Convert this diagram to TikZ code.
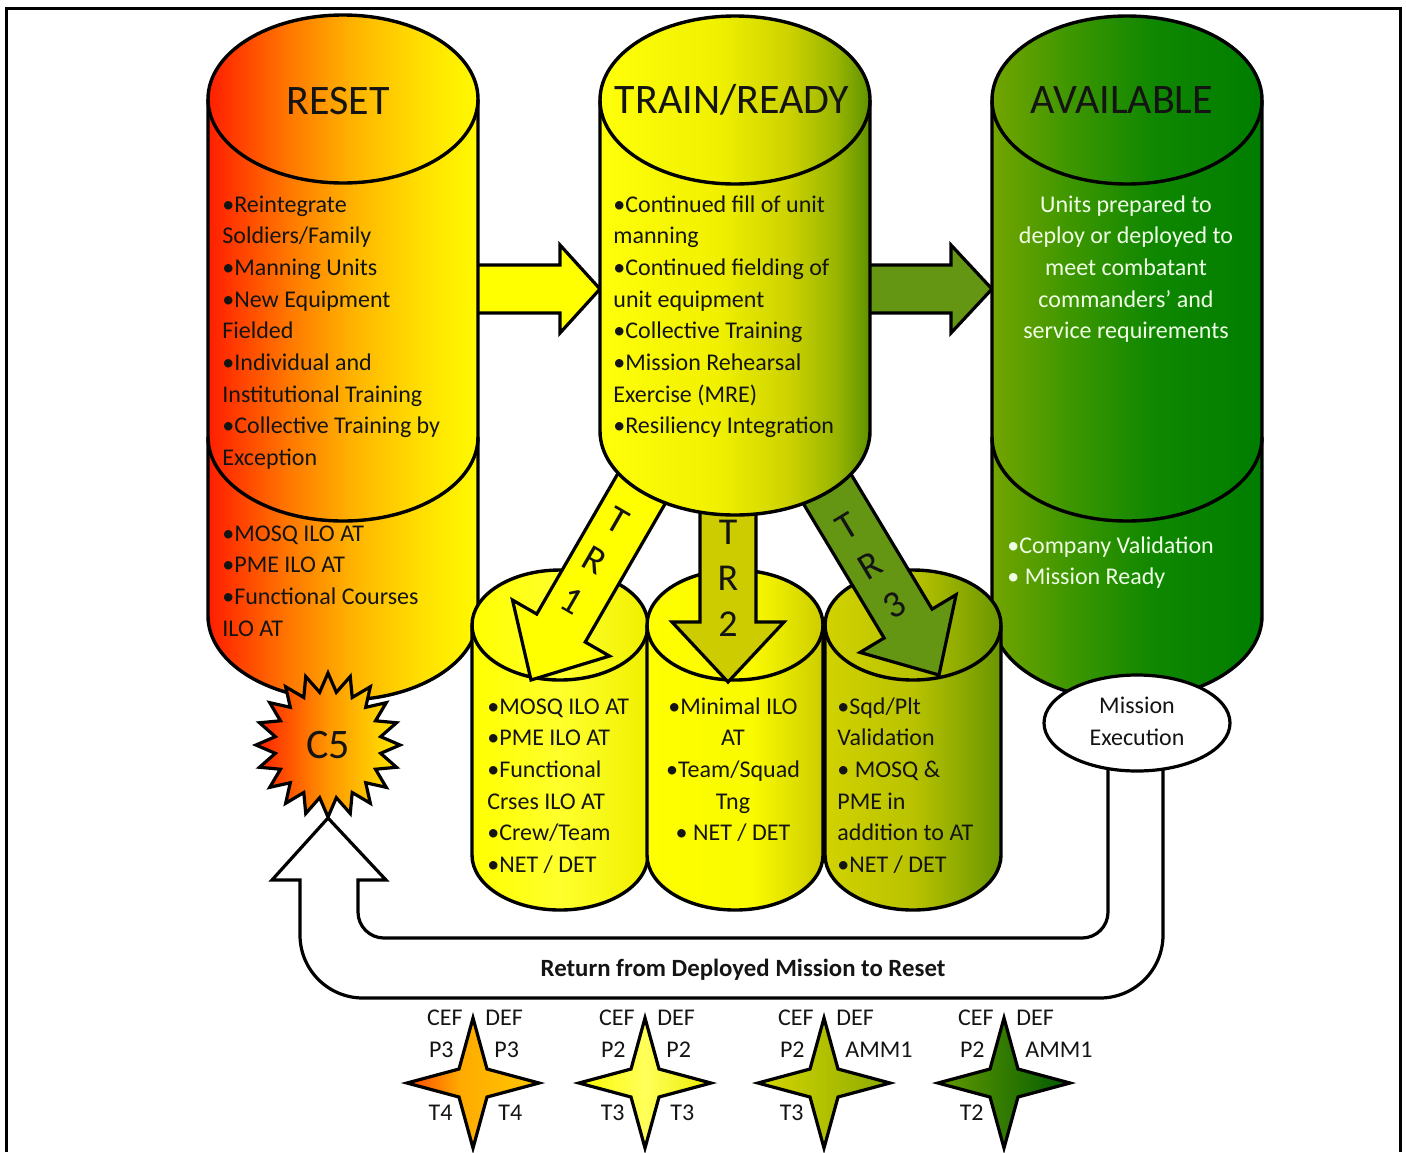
\documentclass[tikz,border=0pt]{standalone}
\usepackage{fontspec}
\setmainfont{Carlito}
\usetikzlibrary{shapes.geometric}

% ---------- colours ----------
\definecolor{ink}{RGB}{20,20,20}
\definecolor{paletext}{RGB}{238,255,230}
\definecolor{fillyellow}{RGB}{255,255,0}
\definecolor{fillolive}{RGB}{204,204,0}
\definecolor{fillgreen}{RGB}{100,150,20}

\definecolor{rsA}{RGB}{255,30,0}
\definecolor{rsB}{RGB}{255,120,0}
\definecolor{rsC}{RGB}{255,180,0}
\definecolor{rsD}{RGB}{255,225,0}
\definecolor{rsE}{RGB}{255,250,0}
\pgfdeclarehorizontalshading{resetshade}{100bp}{color(0bp)=(rsA); color(25bp)=(rsA); color(40bp)=(rsB); color(52bp)=(rsC); color(65bp)=(rsD); color(75bp)=(rsE); color(100bp)=(rsE)}

\definecolor{trA}{RGB}{255,255,10}
\definecolor{trB}{RGB}{240,240,0}
\definecolor{trC}{RGB}{205,210,0}
\definecolor{trD}{RGB}{150,180,0}
\definecolor{trE}{RGB}{95,145,0}
\pgfdeclarehorizontalshading{trainshade}{100bp}{color(0bp)=(trA); color(25bp)=(trA); color(47bp)=(trB); color(60bp)=(trC); color(69bp)=(trD); color(75bp)=(trE); color(100bp)=(trE)}

\definecolor{avA}{RGB}{115,165,0}
\definecolor{avB}{RGB}{60,150,0}
\definecolor{avC}{RGB}{15,135,0}
\definecolor{avD}{RGB}{0,125,0}
\pgfdeclarehorizontalshading{availshade}{100bp}{color(0bp)=(avA); color(25bp)=(avA); color(40bp)=(avB); color(55bp)=(avC); color(75bp)=(avD); color(100bp)=(avD)}

\definecolor{cyA}{RGB}{255,255,0}
\definecolor{cyB}{RGB}{255,255,45}
\definecolor{cyC}{RGB}{240,240,0}
\pgfdeclarehorizontalshading{tronecyl}{100bp}{color(0bp)=(cyA); color(25bp)=(cyA); color(50bp)=(cyB); color(75bp)=(cyC); color(100bp)=(cyC)}

\definecolor{cyD}{RGB}{250,250,0}
\definecolor{cyE}{RGB}{205,205,0}
\pgfdeclarehorizontalshading{trtwocyl}{100bp}{color(0bp)=(cyA); color(25bp)=(cyA); color(55bp)=(cyD); color(75bp)=(cyE); color(100bp)=(cyE)}

\definecolor{cyF}{RGB}{210,210,0}
\definecolor{cyG}{RGB}{185,195,0}
\definecolor{cyH}{RGB}{105,150,0}
\pgfdeclarehorizontalshading{trthreecyl}{100bp}{color(0bp)=(cyF); color(25bp)=(cyF); color(50bp)=(cyG); color(75bp)=(cyH); color(100bp)=(cyH)}

\definecolor{cfA}{RGB}{255,30,0}
\definecolor{cfB}{RGB}{255,150,0}
\definecolor{cfC}{RGB}{255,235,0}
\pgfdeclarehorizontalshading{cfiveshade}{100bp}{color(0bp)=(cfA); color(25bp)=(cfA); color(50bp)=(cfB); color(75bp)=(cfC); color(100bp)=(cfC)}

\definecolor{saA}{RGB}{255,70,0}
\definecolor{saB}{RGB}{255,170,0}
\definecolor{saC}{RGB}{255,200,0}
\pgfdeclarehorizontalshading{staroneshade}{100bp}{color(0bp)=(saA); color(25bp)=(saA); color(45bp)=(saB); color(75bp)=(saC); color(100bp)=(saC)}
\definecolor{sbA}{RGB}{250,250,0}
\definecolor{sbB}{RGB}{255,255,90}
\definecolor{sbC}{RGB}{235,235,0}
\pgfdeclarehorizontalshading{startwoshade}{100bp}{color(0bp)=(sbA); color(25bp)=(sbA); color(50bp)=(sbB); color(75bp)=(sbC); color(100bp)=(sbC)}
\definecolor{scA}{RGB}{215,215,0}
\definecolor{scB}{RGB}{140,170,0}
\pgfdeclarehorizontalshading{starthreeshade}{100bp}{color(0bp)=(scA); color(25bp)=(scA); color(75bp)=(scB); color(100bp)=(scB)}
\definecolor{sdA}{RGB}{100,155,0}
\definecolor{sdB}{RGB}{0,90,0}
\pgfdeclarehorizontalshading{starfourshade}{100bp}{color(0bp)=(sdA); color(25bp)=(sdA); color(75bp)=(sdB); color(100bp)=(sdB)}

% ---------- fonts ----------
\newcommand\bodyfont{\fontsize{12pt}{15.85pt}\selectfont}
\newcommand\loopfont{\fontsize{12.4pt}{15pt}\selectfont\bfseries}
\newcommand\titlefont{\fontsize{21pt}{25pt}\selectfont}
\newcommand\trfont{\fontsize{19pt}{23pt}\selectfont}
\newcommand\leftlines[1]{\begin{tabular}[t]{@{}l@{}}#1\end{tabular}}
\newcommand\midlines[1]{\begin{tabular}[t]{@{}c@{}}#1\end{tabular}}

% cylinder: centre x, top ellipse y, bottom ellipse y, x radius, y radius, shading
\newcommand\drawcyl[6]{%
  \path[cylline, shading=#6, shade]
    (#1-#4,#2) -- (#1-#4,#3)
    arc[start angle=180, end angle=0, x radius=#4, y radius=#5]
    -- (#1+#4,#2)
    arc[start angle=0, end angle=-180, x radius=#4, y radius=#5]
    -- cycle;
  \draw[cylline] (#1-#4,#2) arc[start angle=180, end angle=0, x radius=#4, y radius=#5];
}

% downward block arrow with its tip at (#1,#2), turned by #3, filled #4, shaft length #5
\newcommand\trarrow[5]{%
  \begin{scope}[shift={(#1,#2)}, rotate=#3]
    \path[arrowline, fill=#4] (0,0) -- (-56,-60) -- (-28,-60) -- (-28,-#5)
      -- (28,-#5) -- (28,-60) -- (56,-60) -- cycle;
  \end{scope}
}

% four-pointed readiness star
\newcommand\fourstar[3]{%
  \path[arrowline, shading=#3, shade]
    (#1,#2-65) -- (#1+14,#2-14) -- (#1+66,#2) -- (#1+14,#2+14)
    -- (#1,#2+65) -- (#1-14,#2+14) -- (#1-66,#2) -- (#1-14,#2-14) -- cycle;
}

% labels beside a star: centre x, name prefix, row-2 left, row-2 right, row-3 left
\newcommand\starlabels[5]{%
  \node[lbl, anchor=east] (#2-cef) at (#1-10,1018) {CEF};
  \node[lbl, anchor=west] (#2-def) at (#1+12,1018) {DEF};
  \node[lbl, anchor=east] (#2-pl) at (#1-19,1050) {#3};
  \node[lbl, anchor=west] (#2-pr) at (#1+21,1050) {#4};
  \node[lbl, anchor=east] (#2-tl) at (#1-20,1113) {#5};
}

\begin{document}
\begin{tikzpicture}[x=0.5pt, y=-0.5pt,
  cylline/.style={draw=black, line width=1.7pt, line join=round},
  arrowline/.style={draw=black, line width=1.6pt, line join=miter},
  body/.style={font=\bodyfont, inner sep=0pt, text=ink},
  lbl/.style={font=\bodyfont, inner sep=0pt, text=ink},
  title/.style={font=\titlefont, inner sep=0pt, text=ink},
  paleblock/.style={font=\bodyfont, inner sep=0pt, text=paletext},
  trtext/.style={font=\trfont, inner sep=0pt, text=ink}]

\useasboundingbox (0,0) rectangle (1406,1152);

% outer frame
\draw[line width=1.5pt] (6,1152) -- (6,8) -- (1400,8) -- (1400,1152);

% block arrows between the phases
\path[arrowline, fill=fillyellow] (470,265) -- (560,265) -- (560,245) -- (600,289)
  -- (560,333) -- (560,313) -- (470,313) -- cycle;
\path[arrowline, fill=fillgreen] (862,265) -- (951,265) -- (951,245) -- (992,289)
  -- (951,333) -- (951,313) -- (862,313) -- cycle;

% RESET and AVAILABLE columns
\drawcyl{343}{99}{616}{135}{84}{resetshade}
\draw[cylline] (208,437) arc[start angle=180, end angle=0, x radius=135, y radius=84];
\drawcyl{1127}{100}{616}{135}{84}{availshade}
\draw[cylline] (992,437) arc[start angle=180, end angle=0, x radius=135, y radius=84];

% training-readiness columns
\drawcyl{560}{625}{855}{88}{55}{tronecyl}
\drawcyl{735}{625}{855}{88}{55}{trtwocyl}
\drawcyl{913}{625}{855}{88}{55}{trthreecyl}

% TR arrows
\trarrow{531}{680}{-30}{fillyellow}{260}
\trarrow{728}{682}{0}{fillolive}{242}
\trarrow{939}{675}{31}{fillgreen}{260}

% TRAIN/READY column
\drawcyl{735}{100}{431}{135}{84}{trainshade}

% return loop
\path[arrowline, fill=white]
  (1163,760) -- (1163,935) arc[start angle=0, end angle=90, radius=63]
  -- (363,998) arc[start angle=90, end angle=180, radius=63]
  -- (300,880) -- (272,880) -- (328,818) -- (386,880) -- (358,880)
  -- (358,912) arc[start angle=180, end angle=90, radius=26]
  -- (1082,938) arc[start angle=90, end angle=0, radius=26]
  -- (1108,760) -- cycle;
\node[ellipse, draw=black, line width=1.6pt, fill=white, minimum width=93pt,
  minimum height=48pt, inner sep=0pt, font=\bodyfont, text=ink] (mission)
  at (1137,723) {\begin{tabular}{@{}c@{}}Mission\\Execution\end{tabular}};

% C5 burst
\node[star, star points=20, star point ratio=1.35, minimum size=72pt, inner sep=0pt,
  draw=black, line width=1.6pt, shading=cfiveshade, shade, font=\titlefont, text=ink]
  (cfive) at (328,745) {C5};

% titles
\node[title, anchor=base] (reset-title) at (338,114) {RESET};
\node[title, anchor=base] (train-title) at (732,113) {TRAIN/READY};
\node[title, anchor=base] (avail-title) at (1122,113) {AVAILABLE};

% RESET text
\node[body, anchor=base west] (reset-text) at (222,212) {\leftlines{%
  •Reintegrate\\Soldiers/Family\\•Manning Units\\•New Equipment\\Fielded\\%
  •Individual and\\Institutional Training\\•Collective Training by\\Exception}};
\node[body, anchor=base west] (reset-school) at (222,541) {\leftlines{%
  •MOSQ ILO AT\\•PME ILO AT\\•Functional Courses\\ILO AT}};

% TRAIN/READY text
\node[body, anchor=base west] (train-text) at (613,212) {\leftlines{%
  •Continued fill of unit\\manning\\•Continued fielding of\\unit equipment\\%
  •Collective Training\\•Mission Rehearsal\\Exercise (MRE)\\•Resiliency Integration}};

% AVAILABLE text
\node[paleblock, anchor=base] (avail-text) at (1126,212) {\midlines{%
  Units prepared to\\deploy or deployed to\\meet combatant\\commanders’ and\\service requirements}};
\node[paleblock, anchor=base west] (avail-ready) at (1007,553) {\leftlines{%
  •Company Validation\\• Mission Ready}};

% TR column text
\node[body, anchor=base west] (tr1-text) at (487,714) {\leftlines{%
  •MOSQ ILO AT\\•PME ILO AT\\•Functional\\Crses ILO AT\\•Crew/Team\\•NET / DET}};
\node[body, anchor=base] (tr2-text) at (733,714) {\midlines{%
  •Minimal ILO\\AT\\•Team/Squad\\Tng\\• NET / DET}};
\node[body, anchor=base west] (tr3-text) at (837,714) {\leftlines{%
  •Sqd/Plt\\Validation\\• MOSQ \&\\PME in\\addition to AT\\•NET / DET}};

% TR arrow labels
\node[trtext, rotate=-30] (tr1-label) at (593,563) {\begin{tabular}{@{}c@{}}T\\R\\1\end{tabular}};
\node[trtext] (tr2-label) at (728,581) {\begin{tabular}{@{}c@{}}T\\R\\2\end{tabular}};
\node[trtext, rotate=31] (tr3-label) at (872,568) {\begin{tabular}{@{}c@{}}T\\R\\3\end{tabular}};

% return label
\node[font=\loopfont, inner sep=0pt, text=ink, anchor=base] (return-label)
  at (743,976) {Return from Deployed Mission to Reset};

% readiness stars
\fourstar{473}{1083}{staroneshade}
\fourstar{645}{1083}{startwoshade}
\fourstar{824}{1083}{starthreeshade}
\fourstar{1004}{1083}{starfourshade}

\starlabels{473}{sone}{P3}{P3}{T4}
\node[lbl, anchor=west] (sone-tr) at (473+25,1113) {T4};
\starlabels{645}{stwo}{P2}{P2}{T3}
\node[lbl, anchor=west] (stwo-tr) at (645+25,1113) {T3};
\starlabels{824}{sthree}{P2}{AMM1}{T3}
\starlabels{1004}{sfour}{P2}{AMM1}{T2}

\end{tikzpicture}
\end{document}
